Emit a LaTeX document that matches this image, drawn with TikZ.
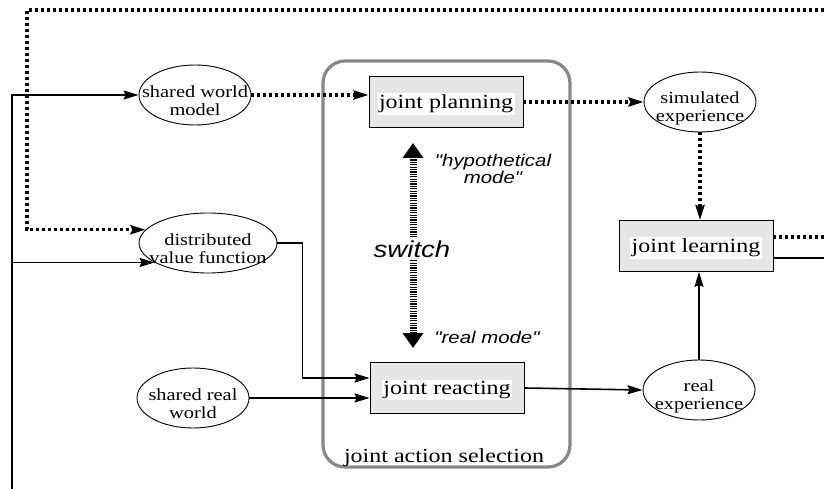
\documentclass[tikz,border=0pt]{standalone}
\usepackage{fontspec}
\setmainfont{Liberation Serif}[FakeStretch=1.2]
\newfontfamily\modefont{Liberation Sans}[FakeStretch=1.2]
\usetikzlibrary{arrows.meta,shapes.geometric,calc}
\definecolor{boxgray}{HTML}{E6E6E6}
\definecolor{framegray}{HTML}{888888}
\tikzset{
  tip/.style={-{Stealth[length=15pt,width=9pt,inset=2pt]}},
  solidline/.style={line width=1.6pt},
  dotline/.style={line width=3.2pt, dash pattern=on 3pt off 3pt},
  ell/.style={ellipse, draw, line width=0.9pt, minimum width=112pt, minimum height=60pt, inner sep=0pt},
  wideell/.style={ell, minimum width=138pt},
  elltext/.style={align=center, inner sep=0pt, font=\fontsize{17}{18}\selectfont},
  procbox/.style={draw, fill=boxgray, line width=0.9pt, minimum width=154pt, minimum height=51pt},
  boxtext/.style={fill=white, inner sep=1.5pt, font=\fontsize{20}{22}\selectfont},
  modetext/.style={align=center, font=\modefont\itshape\fontsize{17}{17}\selectfont},
}
\begin{document}
\begin{tikzpicture}[x=1pt,y=-1pt]
\useasboundingbox (0,0) rectangle (824,489);

% frame of joint action selection
\draw[framegray, line width=3.2pt, rounded corners=22pt] (323,61) rectangle (570,467);
\node[font=\fontsize{20}{22}\selectfont, anchor=base] (jas) at (444,462) {joint action selection};

% ellipses
\node[ell] (swm) at (195,95) {};
\node[elltext] at (195,101) {shared world\\model};
\node[wideell] (dvf) at (208,243) {};
\node[elltext] at (208,249) {distributed\\value function};
\node[ell] (srw) at (193,398) {};
\node[elltext] at (193,404) {shared real\\world};
\node[ell] (sim) at (700,102) {};
\node[elltext] at (700,108) {simulated\\experience};
\node[ell] (rexp) at (699,390) {};
\node[elltext] at (699,396) {real\\experience};

% boxes
\node[procbox] (jp) at (446,102) {};
\node[boxtext] at (446,104) {joint planning};
\node[procbox] (jr) at (447,388) {};
\node[boxtext] at (447,390) {joint reacting};
\node[procbox] (jl) at (696,246) {};
\node[boxtext] at (696,248) {joint learning};

% switch
\coordinate (swtop) at (413,143);
\coordinate (swbot) at (413,348);
\draw[line width=7pt, dash pattern=on 1.2pt off 1.2pt,
  {Triangle[length=15pt,width=20pt]}-{Triangle[length=15pt,width=20pt]}] (swtop) -- (swbot);
\node[fill=white, inner sep=2pt, font=\modefont\itshape\fontsize{23}{23}\selectfont] (sw) at (412,249) {switch};
\node[modetext] (hyp) at (493,169) {"hypothetical\\mode"};
\node[modetext] (real) at (487,337) {"real mode"};

% edge coordinates
\coordinate (tr) at (824,10);
\coordinate (tl) at (27,10);
\coordinate (bl) at (12,489);
\coordinate (jlout1) at (824,237);
\coordinate (jlout2) at (824,258);

% dotted connectors
\draw[dotline, tip] (swm.east) -- (swm.east -| jp.west);
\draw[dotline, tip] (jp.east) -- (sim.west);
\draw[dotline, tip] (sim.south) -- (sim.south |- jl.north);
\draw[dotline] ($(jl.east)+(0,-9)$) -- (jlout1);
\draw[dotline, tip] (tr) -- (tl) -- (tl |- dvf.168) -- (dvf.168);

% solid connectors
\draw[solidline, tip] (bl) |- (swm.west);
\draw[solidline, tip] (bl |- dvf.200) -- (dvf.200);
\draw[solidline, tip] (dvf.east) -- ++(25,0) |- ($(jr.west)+(0,-10)$);
\draw[solidline, tip] (srw.east) -- (srw.east -| jr.west);
\draw[solidline, tip] (jr.east) -- (rexp.west);
\draw[solidline, tip] (rexp.north) -- (rexp.north |- jl.south);
\draw[solidline] ($(jl.east)+(0,12)$) -- (jlout2);
\end{tikzpicture}
\end{document}
